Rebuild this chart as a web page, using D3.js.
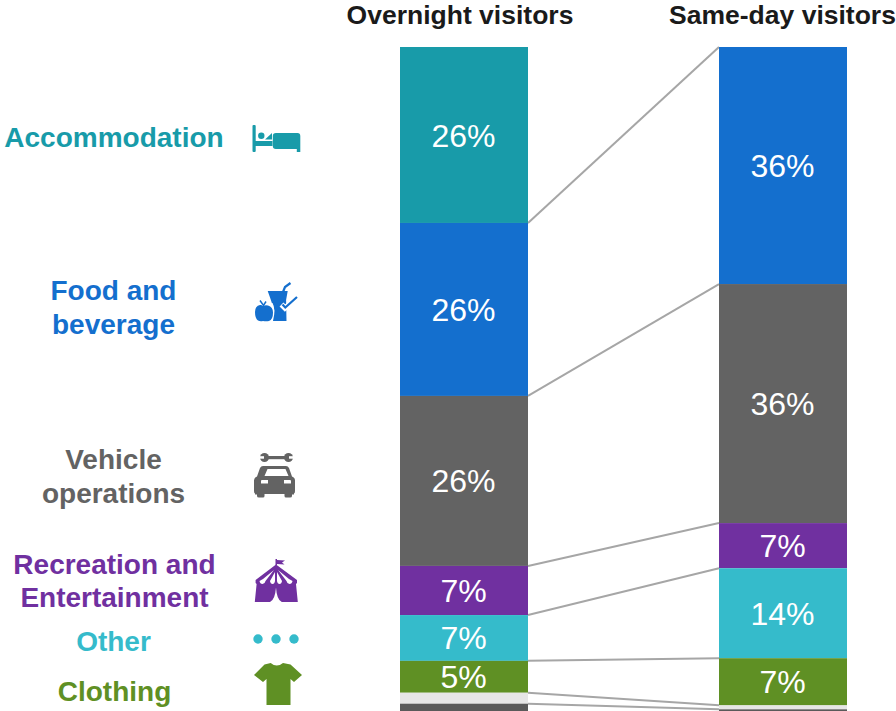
<!DOCTYPE html>
<html><head><meta charset="utf-8">
<script src="https://cdn.jsdelivr.net/npm/d3@7"></script>
<style>html,body{margin:0;padding:0;background:#fff;overflow:hidden}svg{display:block}text{font-family:"Liberation Sans",Arial,sans-serif}</style>
</head><body><svg id="c" width="896" height="711"></svg>
<script>
const columns = ["Overnight visitors", "Same-day visitors"];
const categories = ["Accommodation","Food and beverage","Vehicle operations","Recreation and Entertainment","Other","Clothing","Light","Dark"];
const overnight = [26.5, 26.05, 25.6, 7.4, 6.9, 4.8, 1.65, 1.1];
const sameDay = [0, 35.7, 36.0, 6.8, 13.55, 7.1, 0.6, 0.25];
const overnightLabels = ["26%","26%","26%","7%","7%","5%","",""];
const sameDayLabels = ["","36%","36%","7%","14%","7%","",""];
const colors = ["#189BA9","#146FCE","#636363","#7030A0","#35BBCB","#5F9024","#E6E6E6","#5A5A5A"];
const rowLabels = [["Accommodation"],["Food and","beverage"],["Vehicle","operations"],["Recreation and","Entertainment"],["Other"],["Clothing"]];
const labelY = [137,307.5,476.5,581,641,691];
const labelX = [114,113.5,113.5,114.5,113.5,114.5];

const svg = d3.select("#c");
const y = d3.scaleLinear().domain([0,100]).range([47,711]);
const barW = 128;
const xPos = d3.scaleOrdinal().domain(columns).range([400,719]);

function stack(vals){let s=0;return vals.map((v,i)=>{const o={i,v,y0:s,y1:s+v};s+=v;return o;});}
const stacks=[stack(overnight),stack(sameDay)];
const labs=[overnightLabels,sameDayLabels];

// connectors
const conn = svg.append("g").attr("stroke","#A6A6A6").attr("stroke-width",2).attr("fill","none");
d3.range(0,7).forEach(i=>{
  conn.append("line")
    .attr("x1",xPos(columns[0])+barW).attr("x2",xPos(columns[1]))
    .attr("y1",y(stacks[0][i].y1)).attr("y2",y(stacks[1][i].y1));
});

columns.forEach((c,k)=>{
  const g=svg.append("g");
  g.selectAll("rect").data(stacks[k].filter(d=>d.v>0)).join("rect")
    .attr("x",xPos(c)).attr("width",barW)
    .attr("y",d=>y(d.y0)).attr("height",d=>y(d.y1)-y(d.y0))
    .attr("fill",d=>colors[d.i]);
  g.selectAll("text").data(stacks[k].filter(d=>labs[k][d.i])).join("text")
    .attr("x",xPos(c)+barW/2-0.5).attr("y",d=>(y(d.y0)+y(d.y1))/2)
    .attr("dy","0.36em").attr("text-anchor","middle").attr("fill","#fff")
    .attr("font-size",32).text(d=>labs[k][d.i]);
  svg.append("text").attr("x",xPos(c)+barW/2+(k?-0.5:-4)).attr("y",24).attr("text-anchor","middle")
    .attr("font-weight","bold").attr("font-size",26.5).attr("fill","#1a1a1a").text(c);
});

rowLabels.forEach((ls,i)=>{
  const t=svg.append("text").attr("text-anchor","middle").attr("font-weight","bold")
    .attr("font-size",28).attr("fill",colors[i]);
  const lh=i==3?32.5:34;
  ls.forEach((l,j)=>t.append("tspan").attr("x",labelX[i])
    .attr("y",labelY[i]+9.5+(j-(ls.length-1)/2)*lh).text(l));
});

// icons
const icons=svg.append("g");
// bed
icons.append("g").attr("fill",colors[0]).html(`
<rect x="252.500" y="125" width="3.200" height="27" rx="1"/>
<rect x="255" y="141" width="17.500" height="5"/>
<circle cx="261.300" cy="135.700" r="3.200"/>
<path d="M265 139.500l7-6.500v6.500z"/>
<path d="M276 133h21.500q2.800 0 2.800 3v16h-3.500v-3h-21q-3 0-3-3v-10q0-3 3.200-3z"/>`);
// food
icons.append("g").html(`
<path fill="${colors[1]}" d="M267.700 291h20l-1.600 9 .4 21h-14.500l2.200-11-4-12z"/>
<path fill="none" stroke="${colors[1]}" stroke-width="2.200" d="M283 292l2-5 5.500-4"/>
<path fill="none" stroke="#fff" stroke-width="5.500" d="M281.500 304.500l3.500 3.500 13-11"/>
<path fill="none" stroke="${colors[1]}" stroke-width="2.200" d="M282.500 304.500l2.800 3 11.700-10.500"/>
<path fill="#fff" d="M272.500 303q3.500 6 .5 18h-2q-.5-10-1.500-18z"/>
<path fill="${colors[1]}" d="M263 306q2-1 5-.500 5 1.500 5 7 0 7-4 8.500-3 .6-6 0-3 .6-5-.500-3-2-3-8.500 0-6 5-7 2-.200 3 1z"/>
<path fill="none" stroke="${colors[1]}" stroke-width="1.500" d="M260 300.500l3.500 5 2.500-4"/>`);
// vehicle
icons.append("g").attr("fill",colors[2]).html(`
<circle cx="264.500" cy="457.500" r="4.500"/><circle cx="288.500" cy="457.500" r="4.500"/>
<rect x="264" y="456" width="25" height="3.200"/>
<rect x="258" y="456.200" width="6" height="2.500" fill="#fff"/><rect x="289" y="456.200" width="6" height="2.500" fill="#fff"/>
<path fill-rule="evenodd" d="M267 466h19q2 0 3 2l3 8.500q3 1 3 4v10.500q0 2-1 2.500v1h-2v1.500q0 1.500-2 1.500h-4q-1.500 0-1.500-1.500v-2h-20v2q0 1.500-1.500 1.500h-4q-2 0-2-1.500v-1.500h-2v-1q-1-.5-1-2.500v-10.500q0-3 3-4l3-8.500q1-2 3-2zm.5 3l-3 7h24l-3-7zm-5.500 11q-1 0-1 1v2.500h7v-3.500zm22 0v3.500h7v-2.500q0-1-1-1z"/>`);
// tent
icons.append("g").html(`
<g fill="${colors[3]}">
<path d="M275.500 565v-6h1.500v1l8 .5-3 2 2.500 2-7.500-.500v1z"/>
<path d="M276 564.500l21 15.500v3l-1 1 1.800 18h-16q-5-2-5.800-14.500-1 12.500-6 14.500h-15.200l1.800-18-1-1v-3z"/>
</g>
<g fill="#fff">
<path d="M274 570l-11 9 -3.500 2q.5 3 3 3 2.500-.200 3-3z"/>
<path d="M275 572l-5 9q.500 3 2.500 3t2.500-3z"/>
<path d="M277 572v9q.5 3 2.500 3t2.500-3z"/>
<path d="M278 570l11 9 3.500 2q-.5 3-3 3-2.500-.200-3-3z"/>
</g>`);
// dots
icons.append("g").attr("fill",colors[4]).selectAll("circle").data([258,276,294]).join("circle")
  .attr("cx",d=>d).attr("cy",639).attr("r",4.7);
// shirt
icons.append("g").attr("fill",colors[5]).html(`
<path d="M270.700 663q6 5 12.300 0l7.500 1.500 11.500 10.500-8 7-3.500-3v26h-24v-26l-3.500 3-9-7 10.500-10.500z"/>`);
</script></body></html>
